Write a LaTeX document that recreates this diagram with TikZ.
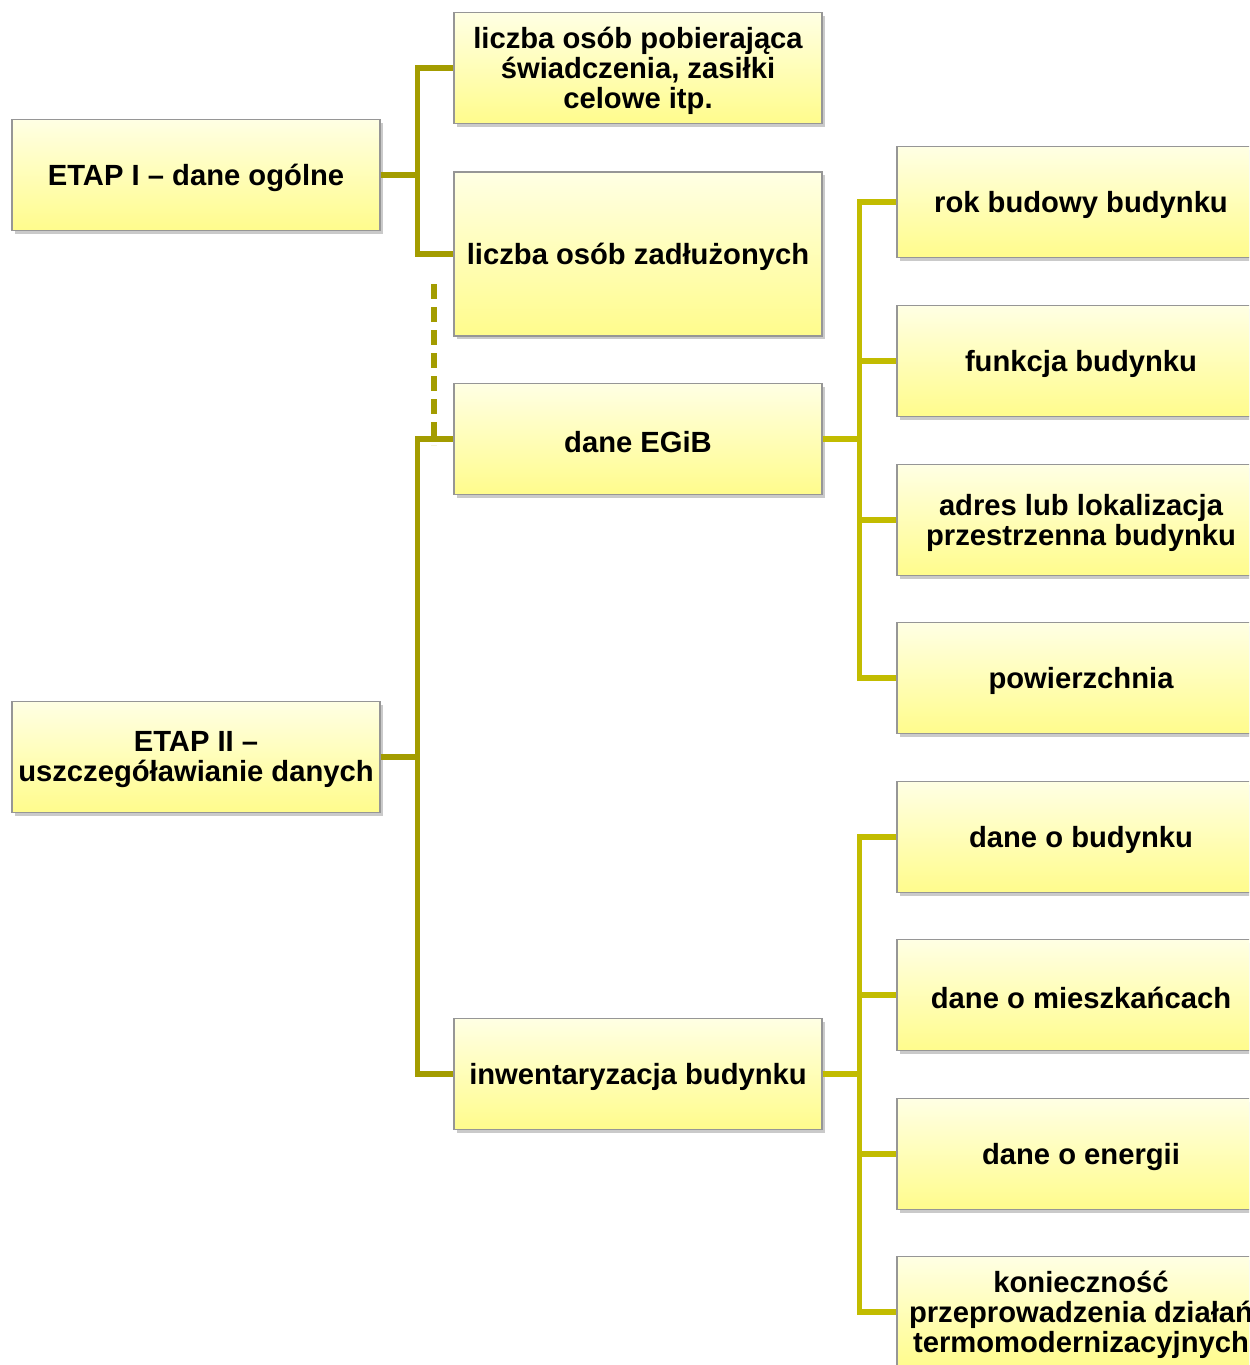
\documentclass[tikz,border=0pt]{standalone}
\usepackage{fontspec}
\setmainfont{Liberation Sans}
\usetikzlibrary{shadows}
\definecolor{lineL}{RGB}{163,156,0}
\definecolor{lineR}{RGB}{194,188,0}
\definecolor{boxtop}{RGB}{255,255,228}
\definecolor{boxbot}{RGB}{255,252,140}
\definecolor{boxedge}{RGB}{150,150,150}
\tikzset{
  ybox/.style={draw=boxedge, line width=0.6pt, top color=boxtop, bottom color=boxbot,
    drop shadow={shadow xshift=1.6pt, shadow yshift=-1.6pt, opacity=0.35, fill=black!60},
    minimum width=184pt, minimum height=55.5pt, inner sep=0pt},
  tallbox/.style={ybox, minimum height=82pt},
  boxtxt/.style={inner sep=0pt, align=center, font=\fontsize{14.6}{15}\selectfont\bfseries},
  connL/.style={draw=lineL, line width=2.6pt},
  connR/.style={draw=lineR, line width=2.6pt},
  dashconn/.style={draw=lineL, line width=2.6pt, dash pattern=on 7.5pt off 4pt}
}
\newcommand{\tbox}[4][ybox]{%
  \node[#1] (#2) at #3 {};
  \node[boxtxt] (#2t) at ([yshift=-1.5pt]#2.center) {#4};
}
\begin{document}
\begin{tikzpicture}[x=0.5pt, y=-0.5pt]
\useasboundingbox (0,0) rectangle (1249,1365);
\clip (0,0) rectangle (1249,1365);
% level 0
\tbox{e1}{(196,175)}{ETAP I – dane ogólne}
\tbox{e2}{(196,757)}{ETAP II –\\uszczegóławianie danych}
% level 1
\tbox{a1}{(638,68)}{liczba osób pobierająca\\świadczenia, zasiłki\\celowe itp.}
\tbox[tallbox]{a2}{(638,254)}{liczba osób zadłużonych}
\tbox{b1}{(638,439)}{dane EGiB}
\tbox{b2}{(638,1074)}{inwentaryzacja budynku}
% level 2
\tbox{c1}{(1081,202)}{rok budowy budynku}
\tbox{c2}{(1081,361)}{funkcja budynku}
\tbox{c3}{(1081,520)}{adres lub lokalizacja\\przestrzenna budynku}
\tbox{c4}{(1081,678)}{powierzchnia}
\tbox{d1}{(1081,837)}{dane o budynku}
\tbox{d2}{(1081,995)}{dane o mieszkańcach}
\tbox{d3}{(1081,1154)}{dane o energii}
\tbox{d4}{(1081,1312)}{konieczność\\przeprowadzenia działań\\termomodernizacyjnych}
% connectors
\draw[connL] (e1.east) -- +(37,0) |- (a1.west);
\draw[connL] (e1.east) -- +(37,0) |- (a2.west);
\draw[connL] (e2.east) -- +(37,0) |- (b1.west);
\draw[connL] (e2.east) -- +(37,0) |- (b2.west);
\coordinate (ds) at (434,284);
\coordinate (de) at (434,445);
\draw[dashconn] (ds) -- (de);
\foreach \t in {c1,c2,c3,c4}{
  \draw[connR] (b1.east) -- +(37,0) |- (\t.west);
}
\foreach \t in {d1,d2,d3,d4}{
  \draw[connR] (b2.east) -- +(37,0) |- (\t.west);
}
\end{tikzpicture}
\end{document}
